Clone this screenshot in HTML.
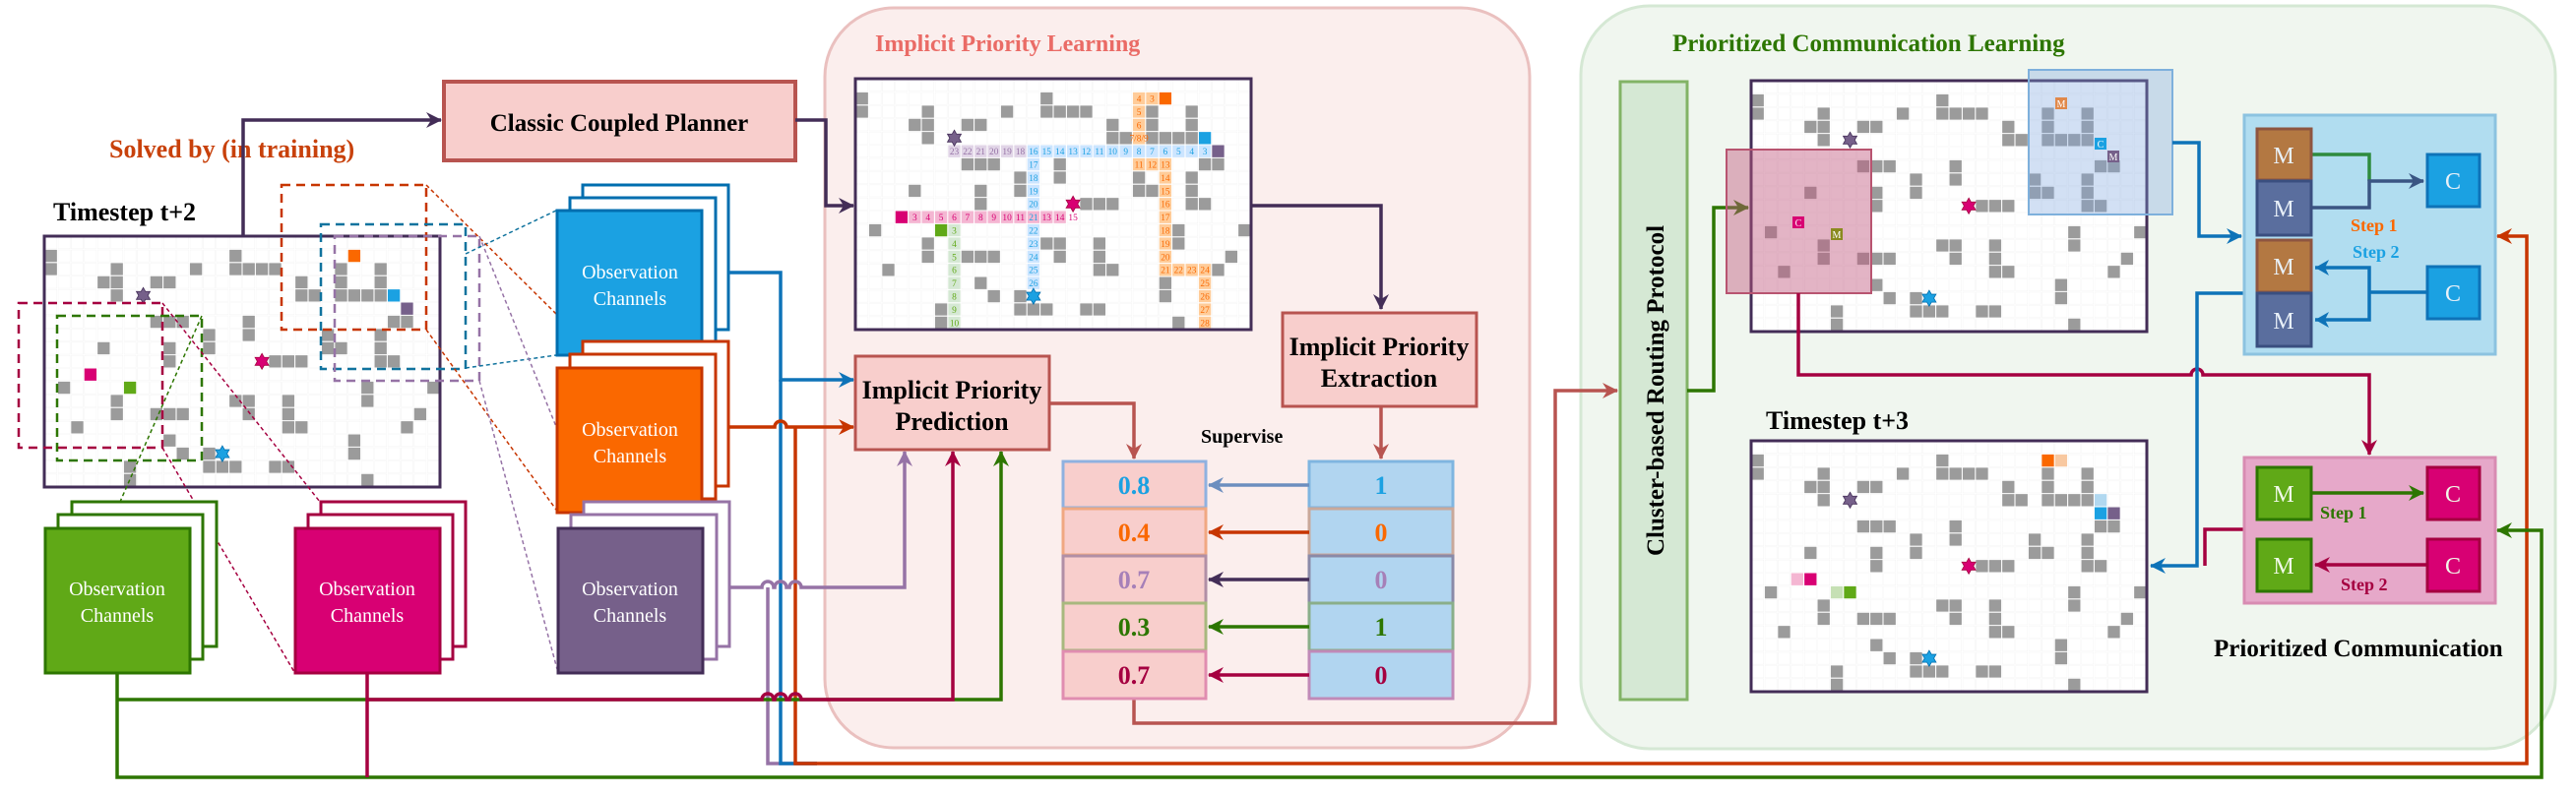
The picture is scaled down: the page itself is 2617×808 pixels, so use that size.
<!DOCTYPE html>
<html><head><meta charset="utf-8"><style>
html,body{margin:0;padding:0;background:#fff;}
svg{display:block;}
text{font-family:"Liberation Serif",serif;}
</style></head><body>
<svg width="2617" height="808" viewBox="0 0 2617 808" xmlns="http://www.w3.org/2000/svg">
<defs>
<pattern id="gp" width="13.4" height="13.4" patternUnits="userSpaceOnUse">
<rect width="13.4" height="13.4" fill="#fff" stroke="#dcdcdc" stroke-width="1.2"/>
</pattern>
<marker id="mDk" markerUnits="userSpaceOnUse" markerWidth="20" markerHeight="20" refX="15" refY="8" orient="auto"><path d="M0,0 L16,8 L0,16 L5,8z" fill="#432d57"/></marker>
<marker id="mBl" markerUnits="userSpaceOnUse" markerWidth="20" markerHeight="20" refX="15" refY="8" orient="auto"><path d="M0,0 L16,8 L0,16 L5,8z" fill="#0e73b8"/></marker>
<marker id="mOr" markerUnits="userSpaceOnUse" markerWidth="20" markerHeight="20" refX="15" refY="8" orient="auto"><path d="M0,0 L16,8 L0,16 L5,8z" fill="#c73500"/></marker>
<marker id="mPu" markerUnits="userSpaceOnUse" markerWidth="20" markerHeight="20" refX="15" refY="8" orient="auto"><path d="M0,0 L16,8 L0,16 L5,8z" fill="#9673a6"/></marker>
<marker id="mMg" markerUnits="userSpaceOnUse" markerWidth="20" markerHeight="20" refX="15" refY="8" orient="auto"><path d="M0,0 L16,8 L0,16 L5,8z" fill="#a50040"/></marker>
<marker id="mGr" markerUnits="userSpaceOnUse" markerWidth="20" markerHeight="20" refX="15" refY="8" orient="auto"><path d="M0,0 L16,8 L0,16 L5,8z" fill="#2d7600"/></marker>
<marker id="mRd" markerUnits="userSpaceOnUse" markerWidth="20" markerHeight="20" refX="15" refY="8" orient="auto"><path d="M0,0 L16,8 L0,16 L5,8z" fill="#b85450"/></marker>
<marker id="mSl" markerUnits="userSpaceOnUse" markerWidth="20" markerHeight="20" refX="15" refY="8" orient="auto"><path d="M0,0 L16,8 L0,16 L5,8z" fill="#6c8ebf"/></marker>
<marker id="mNv" markerUnits="userSpaceOnUse" markerWidth="20" markerHeight="20" refX="15" refY="8" orient="auto"><path d="M0,0 L16,8 L0,16 L5,8z" fill="#3a5583"/></marker>
<g id="obs" fill="#9b9b9b">
<rect x="0" y="1" width="1" height="1"/><rect x="0" y="2" width="1" height="1"/><rect x="5" y="2" width="1" height="1"/><rect x="4" y="3" width="2" height="1"/><rect x="5" y="4" width="1" height="1"/><rect x="8" y="3" width="2" height="1"/><rect x="11" y="2" width="1" height="1"/><rect x="14" y="1" width="1" height="1"/><rect x="14" y="2" width="4" height="1"/><rect x="19" y="3" width="1" height="1"/><rect x="19" y="4" width="2" height="1"/><rect x="22" y="2" width="1" height="2"/><rect x="22" y="4" width="4" height="1"/><rect x="25" y="2" width="1" height="2"/><rect x="26" y="6" width="2" height="1"/><rect x="8" y="6" width="3" height="1"/><rect x="9" y="8" width="1" height="2"/><rect x="12" y="7" width="1" height="2"/><rect x="15" y="6" width="1" height="2"/><rect x="21" y="7" width="1" height="2"/><rect x="22" y="8" width="1" height="1"/><rect x="25" y="7" width="1" height="3"/><rect x="26" y="9" width="1" height="1"/><rect x="4" y="8" width="1" height="1"/><rect x="17" y="9" width="3" height="1"/><rect x="1" y="11" width="1" height="1"/><rect x="5" y="12" width="1" height="2"/><rect x="8" y="13" width="3" height="1"/><rect x="2" y="14" width="1" height="1"/><rect x="14" y="12" width="2" height="1"/><rect x="15" y="13" width="1" height="1"/><rect x="18" y="12" width="1" height="3"/><rect x="19" y="14" width="1" height="1"/><rect x="24" y="11" width="1" height="2"/><rect x="29" y="11" width="1" height="1"/><rect x="28" y="13" width="1" height="1"/><rect x="27" y="14" width="1" height="1"/><rect x="9" y="15" width="1" height="1"/><rect x="10" y="16" width="1" height="1"/><rect x="12" y="16" width="1" height="1"/><rect x="12" y="17" width="3" height="1"/><rect x="17" y="17" width="2" height="1"/><rect x="23" y="15" width="1" height="2"/><rect x="6" y="17" width="1" height="2"/><rect x="24" y="18" width="1" height="1"/>
</g>
<g id="gridlines" stroke="#fff" stroke-width="0.08" fill="none">
<path d="M1,0V19M2,0V19M3,0V19M4,0V19M5,0V19M6,0V19M7,0V19M8,0V19M9,0V19M10,0V19M11,0V19M12,0V19M13,0V19M14,0V19M15,0V19M16,0V19M17,0V19M18,0V19M19,0V19M20,0V19M21,0V19M22,0V19M23,0V19M24,0V19M25,0V19M26,0V19M27,0V19M28,0V19M29,0V19M0,1H30M0,2H30M0,3H30M0,4H30M0,5H30M0,6H30M0,7H30M0,8H30M0,9H30M0,10H30M0,11H30M0,12H30M0,13H30M0,14H30M0,15H30M0,16H30M0,17H30M0,18H30"/>
</g>
<path id="star" d="M0,-0.6 L0.17,-0.3 L0.52,-0.3 L0.35,0 L0.52,0.3 L0.17,0.3 L0,0.6 L-0.17,0.3 L-0.52,0.3 L-0.35,0 L-0.52,-0.3 L-0.17,-0.3z"/>
</defs>

<!-- containers -->
<rect x="838" y="8" width="716" height="752" rx="70" fill="#fbeeed" stroke="#eac0bf" stroke-width="3"/>
<text x="889" y="52" font-size="24" font-weight="bold" fill="#ea6b66">Implicit Priority Learning</text>
<rect x="1606" y="6" width="990" height="755" rx="70" fill="#f0f6ef" stroke="#d5e8d4" stroke-width="3"/>
<text x="1699" y="52" font-size="25" font-weight="bold" fill="#2d7600">Prioritized Communication Learning</text>

<!-- Left texts -->
<text x="111" y="160" font-size="26" font-weight="bold" fill="#c8410b">Solved by (in training)</text>
<text x="54" y="224" font-size="26" font-weight="bold" fill="#000">Timestep t+2</text>
<rect x="451" y="83" width="357" height="80" fill="#f8cecc" stroke="#b85450" stroke-width="4"/>
<text x="629" y="133" font-size="25" font-weight="bold" text-anchor="middle">Classic Coupled Planner</text>

<!-- Grid 1 -->
<g transform="translate(45,240)">
<rect width="402" height="255" fill="url(#gp)"/>
<g transform="scale(13.4)">
<use href="#obs"/>
<rect x="23" y="1" width="1" height="1" fill="#fa6800"/>
<rect x="26" y="4" width="1" height="1" fill="#1ba1e2"/>
<rect x="27" y="5" width="1" height="1" fill="#76608a"/>
<rect x="3" y="10" width="1" height="1" fill="#d80073"/>
<rect x="6" y="11" width="1" height="1" fill="#60a917"/>
<use href="#gridlines"/>
<use href="#star" transform="translate(7.5,4.5)" fill="#76608a" stroke="#432d57" stroke-width="0.06"/>
<use href="#star" transform="translate(16.5,9.5)" fill="#d80073" stroke="#a50040" stroke-width="0.06"/>
<use href="#star" transform="translate(13.5,16.5)" fill="#1ba1e2" stroke="#006eaf" stroke-width="0.06"/>
</g>
<rect width="402" height="255" fill="none" stroke="#432d57" stroke-width="3"/>
</g>

<!-- dashed rects -->
<g fill="none" stroke-width="2.5" stroke-dasharray="9,6">
<rect x="286" y="188" width="147" height="147" stroke="#c73500"/>
<rect x="326" y="228" width="147" height="147" stroke="#10739e"/>
<rect x="340" y="240" width="147" height="147" stroke="#9673a6"/>
<rect x="19" y="308" width="146" height="147" stroke="#a50040"/>
<rect x="58" y="321" width="147" height="147" stroke="#2d7600"/>
</g>
<g fill="none" stroke-width="1.5" stroke-dasharray="4,3">
<path d="M473,258 L565,214 M473,374 L565,361" stroke="#10739e"/>
<path d="M433,188 L565,319 M433,335 L565,518" stroke="#c73500"/>
<path d="M487,240 L595,508 M487,387 L566,680" stroke="#9673a6"/>
<path d="M165,308 L325,510 M165,455 L299,683" stroke="#a50040"/>
<path d="M205,321 L46,683" stroke="#2d7600"/>
</g>

<!-- Observation channel stacks -->
<g font-size="20" fill="#fff" text-anchor="middle">
<g stroke="#006eaf" stroke-width="3">
<rect x="592" y="188" width="148" height="147" fill="#fff"/><rect x="579" y="201" width="148" height="147" fill="#fff"/><rect x="566" y="214" width="147" height="147" fill="#1ba1e2"/></g>
<text x="640" y="283">Observation</text><text x="640" y="310">Channels</text>
<g stroke="#c73500" stroke-width="3">
<rect x="592" y="347" width="148" height="147" fill="#fff"/><rect x="579" y="360" width="148" height="147" fill="#fff"/><rect x="566" y="374" width="147" height="147" fill="#fa6800"/></g>
<text x="640" y="443">Observation</text><text x="640" y="470">Channels</text>
<g stroke="#9673a6" stroke-width="3">
<rect x="593" y="510" width="148" height="147" fill="#fff"/><rect x="580" y="523" width="148" height="147" fill="#fff"/></g>
<rect x="567" y="537" width="147" height="147" fill="#76608a" stroke="#432d57" stroke-width="3"/>
<text x="640" y="605">Observation</text><text x="640" y="632">Channels</text>
<g stroke="#2d7600" stroke-width="3">
<rect x="73" y="510" width="147" height="147" fill="#fff"/><rect x="59" y="523" width="147" height="147" fill="#fff"/><rect x="46" y="537" width="147" height="147" fill="#60a917"/></g>
<text x="119" y="605">Observation</text><text x="119" y="632">Channels</text>
<g stroke="#a50040" stroke-width="3">
<rect x="326" y="510" width="147" height="147" fill="#fff"/><rect x="313" y="523" width="147" height="147" fill="#fff"/><rect x="300" y="537" width="147" height="147" fill="#d80073"/></g>
<text x="373" y="605">Observation</text><text x="373" y="632">Channels</text>
</g>

<!-- Connectors left -->
<g fill="none" stroke-width="3.5">
<path d="M247,240 V122 H448" stroke="#432d57" marker-end="url(#mDk)"/>
<path d="M808,122 H839 V209 H867" stroke="#432d57" marker-end="url(#mDk)"/>
<path d="M780,597 V776 H830" stroke="#9673a6"/>
<path d="M793,386 V776 H830" stroke="#0e73b8"/>
<path d="M740,277 H793 V386 H867" stroke="#0e73b8" marker-end="url(#mBl)"/>
<path d="M740,434 H787 A6,6 0 0 1 799,434 H867" stroke="#c73500" marker-end="url(#mOr)"/>
<path d="M808,434 V776 H2567 V240 H2537" stroke="#c73500" marker-end="url(#mOr)"/>
<path d="M741,597 H774 A6,6 0 0 1 786,597 H787 A6,6 0 0 1 799,597 H802 A6,6 0 0 1 814,597 H919 V459" stroke="#9673a6" marker-end="url(#mPu)"/>
<path d="M119,684 V790 H2582 V539 H2537" stroke="#2d7600" marker-end="url(#mGr)"/>
<path d="M119,711 H1017 V459" stroke="#2d7600" marker-end="url(#mGr)"/>
<path d="M373,684 V790" stroke="#a50040"/>
<path d="M373,711 H774 A6,6 0 0 1 786,711 H787 A6,6 0 0 1 799,711 H802 A6,6 0 0 1 814,711 H968 V459" stroke="#a50040" marker-end="url(#mMg)"/>
</g>

<!-- Grid 2 -->
<g transform="translate(869,80)">
<rect width="402" height="255" fill="url(#gp)"/>
<g transform="scale(13.4)">
<use href="#obs"/>
<rect x="7" y="5" width="6" height="1" fill="#e1d5e7"/>
<rect x="13" y="5" width="14" height="1" fill="#cce5ff"/>
<rect x="27" y="5" width="1" height="1" fill="#76608a"/>
<rect x="26" y="4" width="1" height="1" fill="#1ba1e2"/>
<rect x="21" y="1" width="2" height="1" fill="#ffcc99"/>
<rect x="23" y="1" width="1" height="1" fill="#fa6800"/>
<rect x="21" y="2" width="1" height="3" fill="#ffcc99"/>
<rect x="21" y="6" width="3" height="1" fill="#ffcc99"/>
<rect x="23" y="7" width="1" height="7" fill="#ffcc99"/>
<rect x="23" y="14" width="4" height="1" fill="#ffcc99"/>
<rect x="26" y="15" width="1" height="4" fill="#ffcc99"/>
<rect x="13" y="6" width="1" height="10" fill="#cce5ff"/>
<rect x="3" y="10" width="1" height="1" fill="#d80073"/>
<rect x="4" y="10" width="12" height="1" fill="#f4b6d2"/>
<rect x="6" y="11" width="1" height="1" fill="#60a917"/>
<rect x="7" y="11" width="1" height="8" fill="#d5e8d4"/>
<use href="#gridlines"/>
<use href="#star" transform="translate(7.5,4.5)" fill="#76608a" stroke="#432d57" stroke-width="0.06"/>
<use href="#star" transform="translate(16.5,9.5)" fill="#d80073" stroke="#a50040" stroke-width="0.06"/>
<use href="#star" transform="translate(13.5,16.5)" fill="#1ba1e2" stroke="#006eaf" stroke-width="0.06"/>
<g font-size="0.7" text-anchor="middle">
<g fill="#9673a6"><text x="7.5" y="5.75">23</text><text x="8.5" y="5.75">22</text><text x="9.5" y="5.75">21</text><text x="10.5" y="5.75">20</text><text x="11.5" y="5.75">19</text><text x="12.5" y="5.75">18</text></g>
<g fill="#1ba1e2"><text x="13.5" y="5.75">16</text><text x="14.5" y="5.75">15</text><text x="15.5" y="5.75">14</text><text x="16.5" y="5.75">13</text><text x="17.5" y="5.75">12</text><text x="18.5" y="5.75">11</text><text x="19.5" y="5.75">10</text><text x="20.5" y="5.75">9</text><text x="21.5" y="5.75">8</text><text x="22.5" y="5.75">7</text><text x="23.5" y="5.75">6</text><text x="24.5" y="5.75">5</text><text x="25.5" y="5.75">4</text><text x="26.5" y="5.75">3</text>
<text x="13.5" y="6.75">17</text><text x="13.5" y="7.75">18</text><text x="13.5" y="8.75">19</text><text x="13.5" y="9.75">20</text><text x="13.5" y="10.75">21</text><text x="13.5" y="11.75">22</text><text x="13.5" y="12.75">23</text><text x="13.5" y="13.75">24</text><text x="13.5" y="14.75">25</text><text x="13.5" y="15.75">26</text></g>
<g fill="#fa6800"><text x="21.5" y="1.75">4</text><text x="22.5" y="1.75">3</text><text x="21.5" y="2.75">5</text><text x="21.5" y="3.75">6</text><text x="21.5" y="4.75">7/8/9</text><text x="21.5" y="6.75">11</text><text x="22.5" y="6.75">12</text><text x="23.5" y="6.75">13</text><text x="23.5" y="7.75">14</text><text x="23.5" y="8.75">15</text><text x="23.5" y="9.75">16</text><text x="23.5" y="10.75">17</text><text x="23.5" y="11.75">18</text><text x="23.5" y="12.75">19</text><text x="23.5" y="13.75">20</text><text x="23.5" y="14.75">21</text><text x="24.5" y="14.75">22</text><text x="25.5" y="14.75">23</text><text x="26.5" y="14.75">24</text><text x="26.5" y="15.75">25</text><text x="26.5" y="16.75">26</text><text x="26.5" y="17.75">27</text><text x="26.5" y="18.75">28</text></g>
<g fill="#d80073"><text x="4.5" y="10.75">3</text><text x="5.5" y="10.75">4</text><text x="6.5" y="10.75">5</text><text x="7.5" y="10.75">6</text><text x="8.5" y="10.75">7</text><text x="9.5" y="10.75">8</text><text x="10.5" y="10.75">9</text><text x="11.5" y="10.75">10</text><text x="12.5" y="10.75">11</text><text x="14.5" y="10.75">13</text><text x="15.5" y="10.75">14</text><text x="16.5" y="10.75">15</text></g>
<g fill="#60a917"><text x="7.5" y="11.75">3</text><text x="7.5" y="12.75">4</text><text x="7.5" y="13.75">5</text><text x="7.5" y="14.75">6</text><text x="7.5" y="15.75">7</text><text x="7.5" y="16.75">8</text><text x="7.5" y="17.75">9</text><text x="7.5" y="18.75">10</text></g>
</g>
</g>
<rect width="402" height="255" fill="none" stroke="#432d57" stroke-width="3"/>
</g>

<!-- Implicit boxes -->
<g fill="none" stroke-width="3.5">
<path d="M1271,209 H1403 V314" stroke="#432d57" marker-end="url(#mDk)"/>
<path d="M1403,414 V466" stroke="#b85450" marker-end="url(#mRd)"/>
<path d="M1066,410 H1152 V466" stroke="#b85450" marker-end="url(#mRd)"/>
<path d="M1152,710 V735 H1580 V397 H1643" stroke="#b85450" marker-end="url(#mRd)"/>
</g>
<rect x="1303" y="318" width="197" height="95" fill="#f8cecc" stroke="#b85450" stroke-width="3"/>
<text x="1401" y="361" font-size="26" font-weight="bold" text-anchor="middle">Implicit Priority</text>
<text x="1401" y="393" font-size="26" font-weight="bold" text-anchor="middle">Extraction</text>
<rect x="869" y="362" width="197" height="95" fill="#f8cecc" stroke="#b85450" stroke-width="3"/>
<text x="967" y="405" font-size="26" font-weight="bold" text-anchor="middle">Implicit Priority</text>
<text x="967" y="437" font-size="26" font-weight="bold" text-anchor="middle">Prediction</text>
<text x="1220" y="450" font-size="20" font-weight="bold">Supervise</text>

<!-- value table -->
<g stroke-width="3">
<rect x="1080" y="469" width="145" height="47" fill="#f8cecc" stroke="#8fb1e0"/>
<rect x="1080" y="517" width="145" height="47" fill="#f8cecc" stroke="#f0a882"/>
<rect x="1080" y="565" width="145" height="48" fill="#f8cecc" stroke="#b18fa6"/>
<rect x="1080" y="613" width="145" height="48" fill="#f8cecc" stroke="#a8b87e"/>
<rect x="1080" y="662" width="145" height="48" fill="#f8cecc" stroke="#e08db0"/>
<rect x="1330" y="469" width="146" height="47" fill="#b1d5f0" stroke="#7fb5e0"/>
<rect x="1330" y="517" width="146" height="47" fill="#b1d5f0" stroke="#c9a89a"/>
<rect x="1330" y="565" width="146" height="48" fill="#b1d5f0" stroke="#8a8aa8"/>
<rect x="1330" y="613" width="146" height="48" fill="#b1d5f0" stroke="#8aae8a"/>
<rect x="1330" y="662" width="146" height="48" fill="#b1d5f0" stroke="#c08ab8"/>
</g>
<g font-size="26" font-weight="bold" text-anchor="middle">
<text x="1152" y="502" fill="#1ba1e2">0.8</text><text x="1152" y="550" fill="#fa6800">0.4</text><text x="1152" y="598" fill="#a680b8">0.7</text><text x="1152" y="646" fill="#2d7600">0.3</text><text x="1152" y="695" fill="#a50040">0.7</text>
<text x="1403" y="502" fill="#1ba1e2">1</text><text x="1403" y="550" fill="#fa6800">0</text><text x="1403" y="598" fill="#a680b8">0</text><text x="1403" y="646" fill="#2d7600">1</text><text x="1403" y="695" fill="#a50040">0</text>
</g>
<g fill="none" stroke-width="3.5">
<path d="M1330,493 H1228" stroke="#6c8ebf" marker-end="url(#mSl)"/>
<path d="M1330,541 H1228" stroke="#c73500" marker-end="url(#mOr)"/>
<path d="M1330,589 H1228" stroke="#432d57" marker-end="url(#mDk)"/>
<path d="M1330,637 H1228" stroke="#2d7600" marker-end="url(#mGr)"/>
<path d="M1330,686 H1228" stroke="#a50040" marker-end="url(#mMg)"/>
</g>

<!-- Cluster box -->
<rect x="1646" y="83" width="68" height="628" fill="#d5e8d4" stroke="#82b366" stroke-width="3"/>
<text transform="translate(1690,397) rotate(-90)" font-size="25" font-weight="bold" text-anchor="middle">Cluster-based Routing Protocol</text>
<path d="M1714,397 H1741 V211 H1776" fill="none" stroke="#2d7600" stroke-width="3.5" marker-end="url(#mGr)"/>

<!-- Grid 3 -->
<g transform="translate(1779,82)">
<rect width="402" height="255" fill="url(#gp)"/>
<g transform="scale(13.4)">
<use href="#obs"/>
<use href="#gridlines"/>
<use href="#star" transform="translate(7.5,4.5)" fill="#76608a" stroke="#432d57" stroke-width="0.06"/>
<use href="#star" transform="translate(16.5,9.5)" fill="#d80073" stroke="#a50040" stroke-width="0.06"/>
<use href="#star" transform="translate(13.5,16.5)" fill="#1ba1e2" stroke="#006eaf" stroke-width="0.06"/>
</g>
<rect width="402" height="255" fill="none" stroke="#432d57" stroke-width="3"/>
</g>
<rect x="1754" y="152" width="147" height="146" fill="#c2587f" fill-opacity="0.45" stroke="#b85470" stroke-width="2"/>
<rect x="2061" y="71" width="146" height="147" fill="#7ea6e0" fill-opacity="0.35" stroke="#7eb0dc" stroke-width="2"/>
<g font-size="10" fill="#fff" text-anchor="middle">
<rect x="2088" y="99" width="12" height="12" fill="#e0884a"/><text x="2094" y="109">M</text>
<rect x="2128" y="140" width="12" height="12" fill="#1ba1e2"/><text x="2134" y="150">C</text>
<rect x="2141" y="153" width="12" height="12" fill="#76608a"/><text x="2147" y="163">M</text>
<rect x="1821" y="220" width="12" height="12" fill="#d80073"/><text x="1827" y="230">C</text>
<rect x="1860" y="232" width="12" height="12" fill="#8a8a1e"/><text x="1866" y="242">M</text>
</g>

<!-- Timestep t+3 -->
<text x="1794" y="436" font-size="26" font-weight="bold">Timestep t+3</text>
<g transform="translate(1779,448)">
<rect width="402" height="255" fill="url(#gp)"/>
<g transform="scale(13.4)">
<use href="#obs"/>
<rect x="22" y="1" width="1" height="1" fill="#fa6800"/><rect x="23" y="1" width="1" height="1" fill="#f8c8a0"/>
<rect x="26" y="4" width="1" height="1" fill="#b1d8f0"/><rect x="26" y="5" width="1" height="1" fill="#1ba1e2"/><rect x="27" y="5" width="1" height="1" fill="#76608a"/>
<rect x="3" y="10" width="1" height="1" fill="#f4b6d2"/><rect x="4" y="10" width="1" height="1" fill="#d80073"/>
<rect x="6" y="11" width="1" height="1" fill="#c6e0b4"/><rect x="7" y="11" width="1" height="1" fill="#60a917"/>
<use href="#gridlines"/>
<use href="#star" transform="translate(7.5,4.5)" fill="#76608a" stroke="#432d57" stroke-width="0.06"/>
<use href="#star" transform="translate(16.5,9.5)" fill="#d80073" stroke="#a50040" stroke-width="0.06"/>
<use href="#star" transform="translate(13.5,16.5)" fill="#1ba1e2" stroke="#006eaf" stroke-width="0.06"/>
</g>
<rect width="402" height="255" fill="none" stroke="#432d57" stroke-width="3"/>
</g>

<!-- right connectors -->
<g fill="none" stroke-width="3.5">
<path d="M1827,298 V381 H2226 A6,6 0 0 1 2238,381 H2407 V462" stroke="#a50040" marker-end="url(#mMg)"/>
<path d="M2207,145 H2234 V240 H2277" stroke="#0e73b8" marker-end="url(#mBl)"/>
<path d="M2280,298 H2232 V575 H2185" stroke="#0e73b8" marker-end="url(#mBl)"/>
<path d="M2280,538 H2240 V575" stroke="#a50040"/>
</g>

<!-- Blue comm box -->
<rect x="2280" y="117" width="255" height="243" fill="#b1ddf0" stroke="#8cc3e0" stroke-width="3"/>
<g stroke-width="3.5" fill="none">
<path d="M2349,157 H2407 V184" stroke="#2e8b3e"/>
<path d="M2349,211 H2407 V184 H2462" stroke="#3a5583" marker-end="url(#mNv)"/>
<path d="M2465,297 H2407 V272 H2352 M2407,297 V325 H2352" stroke="#0e73b8"/>
</g>
<path d="M2352,272 l14,-8 l-4,8 l4,8z M2352,325 l14,-8 l-4,8 l4,8z" fill="#0e73b8"/>
<g stroke-width="3">
<rect x="2293" y="131" width="55" height="52" fill="#b37842" stroke="#8e5540"/>
<rect x="2293" y="184" width="55" height="55" fill="#5a6e9e" stroke="#3a4f80"/>
<rect x="2293" y="244" width="55" height="53" fill="#b37842" stroke="#8e5540"/>
<rect x="2293" y="298" width="55" height="54" fill="#5a6e9e" stroke="#3a4f80"/>
<rect x="2466" y="157" width="53" height="53" fill="#1ba1e2" stroke="#0e73b8"/>
<rect x="2466" y="271" width="53" height="53" fill="#1ba1e2" stroke="#0e73b8"/>
</g>
<g font-size="24" fill="#e8f0f8" text-anchor="middle">
<text x="2320" y="166">M</text><text x="2320" y="220">M</text><text x="2320" y="279">M</text><text x="2320" y="334">M</text>
<text x="2492" y="192">C</text><text x="2492" y="306">C</text>
</g>
<text x="2388" y="235" font-size="18" font-weight="bold" fill="#fa6800">Step 1</text>
<text x="2390" y="262" font-size="18" font-weight="bold" fill="#1ba1e2">Step 2</text>

<!-- Pink comm box -->
<rect x="2280" y="465" width="255" height="148" fill="#e6a8c9" stroke="#d88cb2" stroke-width="3"/>
<path d="M2349,501 H2462" fill="none" stroke="#2d7600" stroke-width="3.5" marker-end="url(#mGr)"/>
<path d="M2465,574 H2352" fill="none" stroke="#a50040" stroke-width="3.5" marker-end="url(#mMg)"/>
<g stroke-width="3">
<rect x="2293" y="475" width="55" height="53" fill="#60a917" stroke="#2d7600"/>
<rect x="2293" y="548" width="55" height="53" fill="#60a917" stroke="#2d7600"/>
<rect x="2466" y="475" width="53" height="53" fill="#d80073" stroke="#a50040"/>
<rect x="2466" y="548" width="53" height="53" fill="#d80073" stroke="#a50040"/>
</g>
<g font-size="24" fill="#f0f8e8" text-anchor="middle">
<text x="2320" y="510">M</text><text x="2320" y="583">M</text><text x="2492" y="510">C</text><text x="2492" y="583">C</text>
</g>
<text x="2357" y="527" font-size="18" font-weight="bold" fill="#2d7600">Step 1</text>
<text x="2378" y="600" font-size="18" font-weight="bold" fill="#a50040">Step 2</text>
<text x="2249" y="667" font-size="25" font-weight="bold">Prioritized Communication</text>
</svg>
</body></html>
